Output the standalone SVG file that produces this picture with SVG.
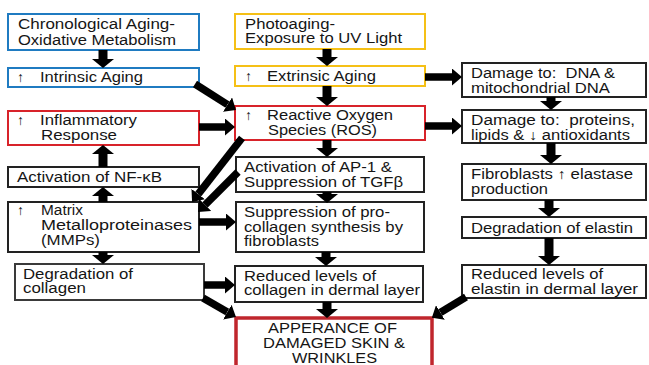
<svg xmlns="http://www.w3.org/2000/svg" width="649" height="365" viewBox="0 0 649 365">
<style>
.box{fill:#fff;stroke:#222;stroke-width:2}
.blue{stroke:#1f7bc1}
.yel{stroke:#f5c016}
.red{stroke:#d8232a}
.big{fill:#fff;stroke:#c0262d;stroke-width:3.5}
text{font-family:"Liberation Sans",Arial,sans-serif;font-size:14px;fill:#151515}
.c line{stroke:#000}
.v{stroke-width:9;marker-end:url(#hv)}
.d{stroke-width:7.5;marker-end:url(#hd)}
</style>
<defs>
<marker id="hv" markerUnits="userSpaceOnUse" markerWidth="9" markerHeight="22" viewBox="0 -11 9 22" refX="0" refY="0" orient="auto"><path d="M0,-11 L9,0 L0,11 z" fill="#000"/></marker>
<marker id="hd" markerUnits="userSpaceOnUse" markerWidth="10" markerHeight="17" viewBox="0 -8.5 10 17" refX="0" refY="0" orient="auto"><path d="M0,-8.5 L10,0 L0,8.5 z" fill="#000"/></marker>
</defs>
<rect width="649" height="365" fill="#fff"/>

<g id="chrono"><rect class="box blue" x="8" y="14" width="191" height="36"/>
<text x="18" y="29" textLength="157" lengthAdjust="spacingAndGlyphs">Chronological Aging-</text>
<text x="18" y="44.5" textLength="158" lengthAdjust="spacingAndGlyphs">Oxidative Metabolism</text></g>

<g id="intrinsic"><rect class="box blue" x="8" y="68" width="191" height="19"/>
<text x="17" y="82">↑</text>
<text x="40" y="82" textLength="103" lengthAdjust="spacingAndGlyphs">Intrinsic Aging</text></g>

<g id="inflammatory"><rect class="box red" x="8" y="111" width="191" height="34"/>
<text x="17" y="125">↑</text>
<text x="40" y="125" textLength="97" lengthAdjust="spacingAndGlyphs">Inflammatory</text>
<text x="41" y="140" textLength="76" lengthAdjust="spacingAndGlyphs">Response</text></g>

<g id="nfkb"><rect class="box" x="8" y="167" width="191" height="20"/>
<text x="17" y="181.5" textLength="145" lengthAdjust="spacingAndGlyphs">Activation of NF-κB</text></g>

<g id="mmps"><rect class="box" x="8" y="202" width="191" height="50"/>
<text x="17" y="215">↑</text>
<text x="41" y="215" textLength="42" lengthAdjust="spacingAndGlyphs">Matrix</text>
<text x="41" y="229.5" textLength="151" lengthAdjust="spacingAndGlyphs">Metalloproteinases</text>
<text x="41" y="244.5" textLength="59" lengthAdjust="spacingAndGlyphs">(MMPs)</text></g>

<g id="degcollagen"><rect class="box" style="stroke:#3a3a3a" x="15" y="264" width="189" height="36"/>
<text x="23" y="278.5" textLength="110" lengthAdjust="spacingAndGlyphs">Degradation of</text>
<text x="23" y="293" textLength="63" lengthAdjust="spacingAndGlyphs">collagen</text></g>

<g id="photo"><rect class="box yel" x="235" y="14" width="190" height="35"/>
<text x="245" y="28.5" textLength="90" lengthAdjust="spacingAndGlyphs">Photoaging-</text>
<text x="245" y="43" textLength="157" lengthAdjust="spacingAndGlyphs">Exposure to UV Light</text></g>

<g id="extrinsic"><rect class="box yel" x="235" y="66" width="190" height="20"/>
<text x="245" y="81">↑</text>
<text x="267" y="81" textLength="109" lengthAdjust="spacingAndGlyphs">Extrinsic Aging</text></g>

<g id="ros"><rect class="box red" x="235" y="106" width="190" height="34"/>
<text x="245" y="120">↑</text>
<text x="267" y="120" textLength="126" lengthAdjust="spacingAndGlyphs">Reactive Oxygen</text>
<text x="268" y="134.5" textLength="109" lengthAdjust="spacingAndGlyphs">Species (ROS)</text></g>

<g id="ap1"><rect class="box" x="236" y="157" width="188" height="35"/>
<text x="244" y="172" textLength="148" lengthAdjust="spacingAndGlyphs">Activation of AP-1 &amp;</text>
<text x="244" y="186.5" textLength="159" lengthAdjust="spacingAndGlyphs">Suppression of TGFβ</text></g>

<g id="procollagen"><rect class="box" x="236" y="202" width="188" height="50"/>
<text x="244" y="217" textLength="146" lengthAdjust="spacingAndGlyphs">Suppression of pro-</text>
<text x="244" y="231.5" textLength="159" lengthAdjust="spacingAndGlyphs">collagen synthesis by</text>
<text x="244" y="246" textLength="75" lengthAdjust="spacingAndGlyphs">fibroblasts</text></g>

<g id="redcollagen"><rect class="box" x="235" y="266" width="188" height="36"/>
<text x="244" y="280.5" textLength="132" lengthAdjust="spacingAndGlyphs">Reduced levels of</text>
<text x="244" y="295" textLength="176" lengthAdjust="spacingAndGlyphs">collagen in dermal layer</text></g>

<g id="appearance"><rect class="big" x="236" y="318" width="196" height="60"/>
<text x="268" y="333" textLength="129" lengthAdjust="spacingAndGlyphs">APPERANCE OF</text>
<text x="263" y="348" textLength="142" lengthAdjust="spacingAndGlyphs">DAMAGED SKIN &amp;</text>
<text x="292" y="362.5" textLength="85" lengthAdjust="spacingAndGlyphs">WRINKLES</text></g>

<g id="dna"><rect class="box" x="462" y="63" width="184" height="34"/>
<text x="471" y="78" textLength="144" lengthAdjust="spacingAndGlyphs">Damage to:&#160; DNA &amp;</text>
<text x="471" y="92.5" textLength="139" lengthAdjust="spacingAndGlyphs">mitochondrial DNA</text></g>

<g id="proteins"><rect class="box" x="462" y="110" width="184" height="33"/>
<text x="471" y="125" textLength="164" lengthAdjust="spacingAndGlyphs">Damage to:&#160; proteins,</text>
<text x="471" y="139.5" textLength="159" lengthAdjust="spacingAndGlyphs">lipids &amp; ↓ antioxidants</text></g>

<g id="fibroblasts"><rect class="box" x="462" y="164" width="184" height="36"/>
<text x="471" y="179" textLength="162" lengthAdjust="spacingAndGlyphs">Fibroblasts ↑ elastase</text>
<text x="471" y="194" textLength="77" lengthAdjust="spacingAndGlyphs">production</text></g>

<g id="degelastin"><rect class="box" x="462" y="217" width="184" height="21"/>
<text x="471" y="232.5" textLength="162" lengthAdjust="spacingAndGlyphs">Degradation of elastin</text></g>

<g id="redelastin"><rect class="box" x="462" y="265" width="184" height="33"/>
<text x="471" y="279" textLength="132" lengthAdjust="spacingAndGlyphs">Reduced levels of</text>
<text x="471" y="293.5" textLength="167" lengthAdjust="spacingAndGlyphs">elastin in dermal layer</text></g>

<g id="connectors" class="c">
<line class="v" x1="103" y1="50" x2="103" y2="59"/>
<line class="v" x1="327" y1="49" x2="327" y2="57"/>
<line class="v" x1="327" y1="86" x2="327" y2="97"/>
<line class="v" x1="103" y1="167" x2="103" y2="154"/>
<line class="v" x1="103" y1="202" x2="103" y2="196"/>
<line class="v" x1="103" y1="252" x2="103" y2="255"/>
<line class="v" x1="327" y1="140" x2="327" y2="148"/>
<line class="v" x1="327" y1="192" x2="327" y2="194"/>
<line class="v" x1="326" y1="252" x2="326" y2="257"/>
<line class="v" x1="327" y1="302" x2="327" y2="309"/>
<line class="v" x1="551" y1="97" x2="551" y2="101"/>
<line class="v" x1="551" y1="143" x2="551" y2="155"/>
<line class="v" x1="549" y1="200" x2="549" y2="208"/>
<line class="v" x1="549" y1="238" x2="549" y2="256"/>
<line class="d" x1="199" y1="127" x2="225" y2="127"/>
<line class="d" x1="425" y1="77" x2="452" y2="77"/>
<line class="d" x1="425" y1="126" x2="452" y2="126"/>
<line class="d" x1="199" y1="222" x2="226" y2="222"/>
<line class="d" x1="204" y1="285" x2="225" y2="285"/>
<line class="d" x1="195" y1="84" x2="227.5" y2="104.6"/>
<line class="d" x1="242" y1="138" x2="198.2" y2="194.1"/>
<line class="d" x1="238" y1="172" x2="205.1" y2="204.9"/>
<line class="d" x1="203" y1="298" x2="227.3" y2="312.1"/>
<line class="d" x1="466" y1="297" x2="440.4" y2="312.5"/>
</g>
</svg>
